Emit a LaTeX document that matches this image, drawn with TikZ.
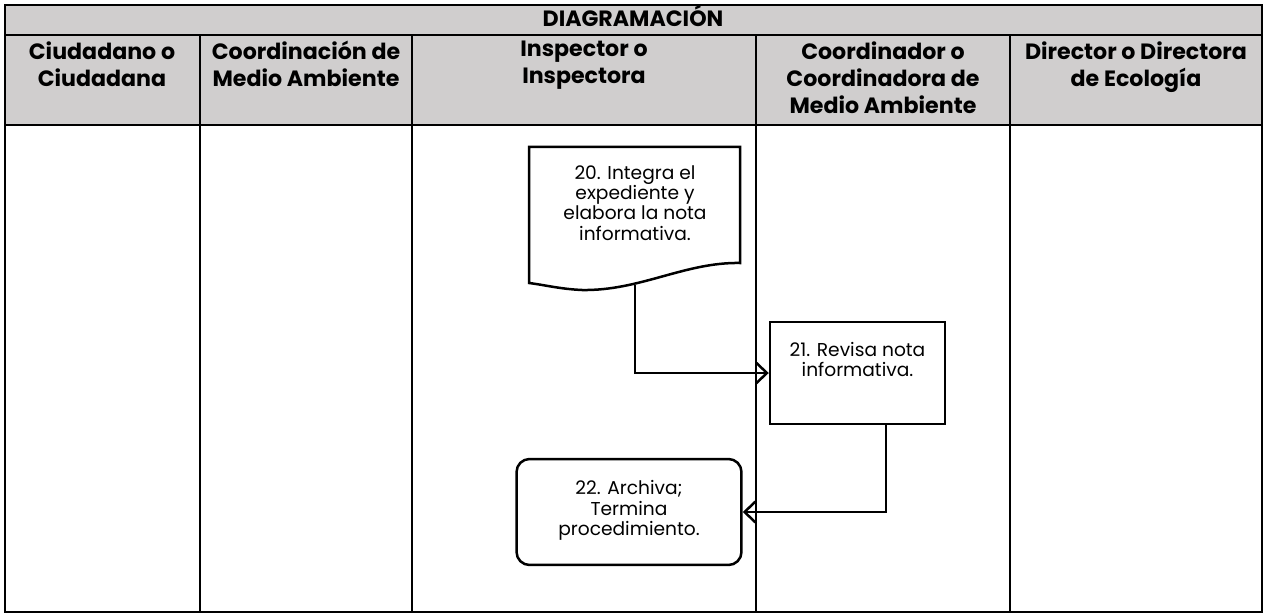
\documentclass[tikz,border=0pt]{standalone}
\usepackage{fontspec}
\setmainfont{Poppins}
\usetikzlibrary{arrows.meta}
\definecolor{headgray}{RGB}{208,206,206}
\tikzset{
	lanetext/.style={font=\bfseries\fontsize{12.6}{15.4}\selectfont, align=center, anchor=north, inner sep=0pt, execute at begin node=\strut},
	steptext/.style={font=\fontsize{10.6}{11.6}\selectfont, align=center, inner sep=0pt},
	stepbox/.style={draw, line width=0.5mm, font=\fontsize{10.6}{11.6}\selectfont, align=center},
	flow/.style={line width=0.5mm, -{Straight Barb[length=2.2mm,width=4.2mm]}}
}

\begin{document}
\begin{tikzpicture}[x=0.02cm, y=-0.02cm]
		\useasboundingbox (0, 0) rectangle (1265, 615);
		%%%%% START %%%%%
		
		\draw[line width=0.5mm, fill=headgray] (5, 5) rectangle (1262, 125);
		\draw[line width=0.5mm] (5, 35) -- (1262, 35);
		\draw[line width=0.5mm] (5, 125) rectangle (1262, 612);
		\foreach \x in {200, 412, 756, 1010}
			\draw[line width=0.5mm] (\x, 35) -- (\x, 612);
		
		\node[lanetext, anchor=center] (title) at (633, 20) {DIAGRAMACIÓN};
		\node[lanetext] (lane1) at (102, 41) {Ciudadano o\\Ciudadana};
		\node[lanetext] (lane2) at (306, 41) {Coordinación de\\Medio Ambiente};
		\node[lanetext] (lane3) at (584, 41) {Inspector o\\Inspectora};
		\node[lanetext] (lane4) at (883, 41) {Coordinador o\\Coordinadora de\\Medio Ambiente};
		\node[lanetext] (lane5) at (1136, 41) {Director o Directora\\de Ecología};
		
		% 20: documento
		\draw[line width=0.5mm] (529, 147) -- (740, 147) -- (740, 263)
			.. controls (685, 262) and (640, 291) .. (582, 290)
			.. controls (560, 289) and (545, 285) .. (529, 283) -- cycle;
		\node[steptext] (n20) at (635, 203) {20. Integra el\\expediente y\\elabora la nota\\informativa.};
		\coordinate (n20out) at (635, 285);
		
		% 21
		\node[stepbox, minimum width=3.5cm, minimum height=2.04cm] (n21) at (857.5, 373) {21. Revisa nota\\informativa.\\[4pt]\mbox{}};
		\coordinate (n21out) at (886, 424);
		
		% 22: termina
		\node[stepbox, rounded corners=0.26cm, minimum width=4.5cm, minimum height=2.12cm] (n22) at (629, 512) {22. Archiva;\\Termina\\procedimiento.\\[-7pt]\mbox{}};
		
		\draw[flow] (n20out) |- (n21.west);
		\draw[flow] (n21out) |- (n22.east);
		
		%%%%% END %%%%%
	\end{tikzpicture}
\end{document}
